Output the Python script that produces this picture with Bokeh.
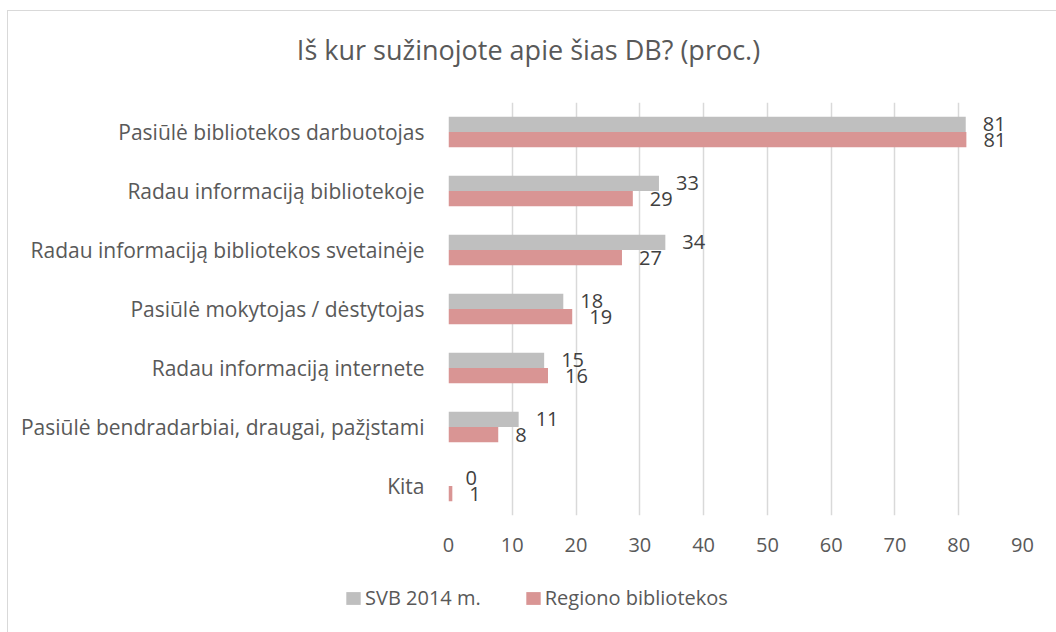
from bokeh.plotting import figure
from bokeh.layouts import column
from bokeh.models import ColumnDataSource, FactorRange, Range1d, Legend, LegendItem, Label
from bokeh.transform import dodge
from bokeh.embed import file_html
from bokeh.resources import INLINE
from bokeh.core.properties import value

categories = [
    "Pasiūlė bibliotekos darbuotojas",
    "Radau informaciją bibliotekoje",
    "Radau informaciją bibliotekos svetainėje",
    "Pasiūlė mokytojas / dėstytojas",
    "Radau informaciją internete",
    "Pasiūlė bendradarbiai, draugai, pažįstami",
    "Kita",
]
svb_2014 = [81.1, 33.0, 34.0, 18.0, 15.0, 11.0, 0.0]
regiono = [81.2, 28.9, 27.2, 19.4, 15.6, 7.8, 0.6]
series_names = ["SVB 2014 m.", "Regiono bibliotekos"]
x_ticks = [0, 10, 20, 30, 40, 50, 60, 70, 80, 90]
title_text = "Iš kur sužinojote apie šias DB? (proc.)"

FONT = "Open Sans"
GREY = "#bfbfbf"
RED = "#d99594"
W = 1048


def bare(height):
    f = figure(width=W, height=height, output_backend="svg", toolbar_location=None,
               x_axis_location=None, y_axis_location=None, min_border=0,
               x_range=Range1d(0, 1), y_range=Range1d(0, 1))
    f.outline_line_color = None
    f.xgrid.visible = False
    f.ygrid.visible = False
    if "frame_align" in f.properties():
        f.frame_align = False
    return f


# ---- title strip ----
t = bare(60)
t.add_layout(Label(x=520, y=22, x_units="screen", y_units="screen", text=title_text,
                   text_align="center", text_baseline="middle",
                   text_font=FONT, text_font_size="27px", text_color="#595959"))

# ---- main chart ----
src = ColumnDataSource(dict(
    cat=categories,
    svb=svb_2014,
    reg=regiono,
    svb_lbl=[f"{v:.0f}" for v in svb_2014],
    reg_lbl=[f"{v:.0f}" for v in regiono],
))

p = figure(
    width=W, height=510,
    y_range=FactorRange(*reversed(categories)),
    x_range=Range1d(0, 90),
    output_backend="svg", toolbar_location=None,
    min_border_left=440, min_border_right=34,
    min_border_top=31, min_border_bottom=66,
)
if "frame_align" in p.properties():
    p.frame_align = False

BH = 0.26
r1 = p.hbar(y=dodge("cat", BH / 2, range=p.y_range), left=0, right="svb", height=BH,
            fill_color=GREY, line_color=None, source=src)
r2 = p.hbar(y=dodge("cat", -BH / 2, range=p.y_range), left=0, right="reg", height=BH,
            fill_color=RED, line_color=None, source=src)

for col, lbl, off in (("svb", "svb_lbl", BH / 2), ("reg", "reg_lbl", -BH / 2)):
    p.text(x=col, y=dodge("cat", off, range=p.y_range), text=lbl, source=src,
           x_offset=17, text_align="left", text_baseline="middle",
           text_font=value(FONT), text_font_size="20px", text_color="#404040")

p.xaxis.ticker = x_ticks
for ax in (p.xaxis, p.yaxis):
    ax.axis_line_color = None
    ax.major_tick_line_color = None
    ax.minor_tick_line_color = None
    ax.major_label_text_font = FONT
    ax.major_label_text_color = "#595959"
p.xaxis.major_label_text_font_size = "20px"
p.yaxis.major_label_text_font_size = "21px"
p.xaxis.major_label_standoff = 16
p.yaxis.major_label_standoff = 18

p.ygrid.grid_line_color = None
p.xgrid.grid_line_color = "#d9d9d9"
p.xgrid.grid_line_width = 1.5
p.outline_line_color = None

# ---- legend strip (proxy bars sit outside the strip's visible range) ----
lg = bare(51)
proxy = ColumnDataSource(dict(y=[-5.0], right=[1.0]))
lr1 = lg.hbar(y="y", right="right", height=1, fill_color=GREY, line_color=None, source=proxy)
lr2 = lg.hbar(y="y", right="right", height=1, fill_color=RED, line_color=None, source=proxy)
legend = Legend(
    items=[LegendItem(label=series_names[0], renderers=[lr1]),
           LegendItem(label=series_names[1], renderers=[lr2])],
    orientation="horizontal", location=(336, 21),
    glyph_width=18, glyph_height=16, label_standoff=3, spacing=43,
    padding=0, margin=0, border_line_color=None, background_fill_alpha=0,
    label_text_font=FONT, label_text_font_size="20px", label_text_color="#595959",
)
lg.add_layout(legend)

layout = column(t, p, lg, spacing=0)
layout.styles = {"border-left": "1px solid #d9d9d9", "border-top": "1px solid #d9d9d9",
                 "margin-left": "7px", "margin-top": "10px"}

open("out.html", "w").write(file_html(layout, INLINE))
